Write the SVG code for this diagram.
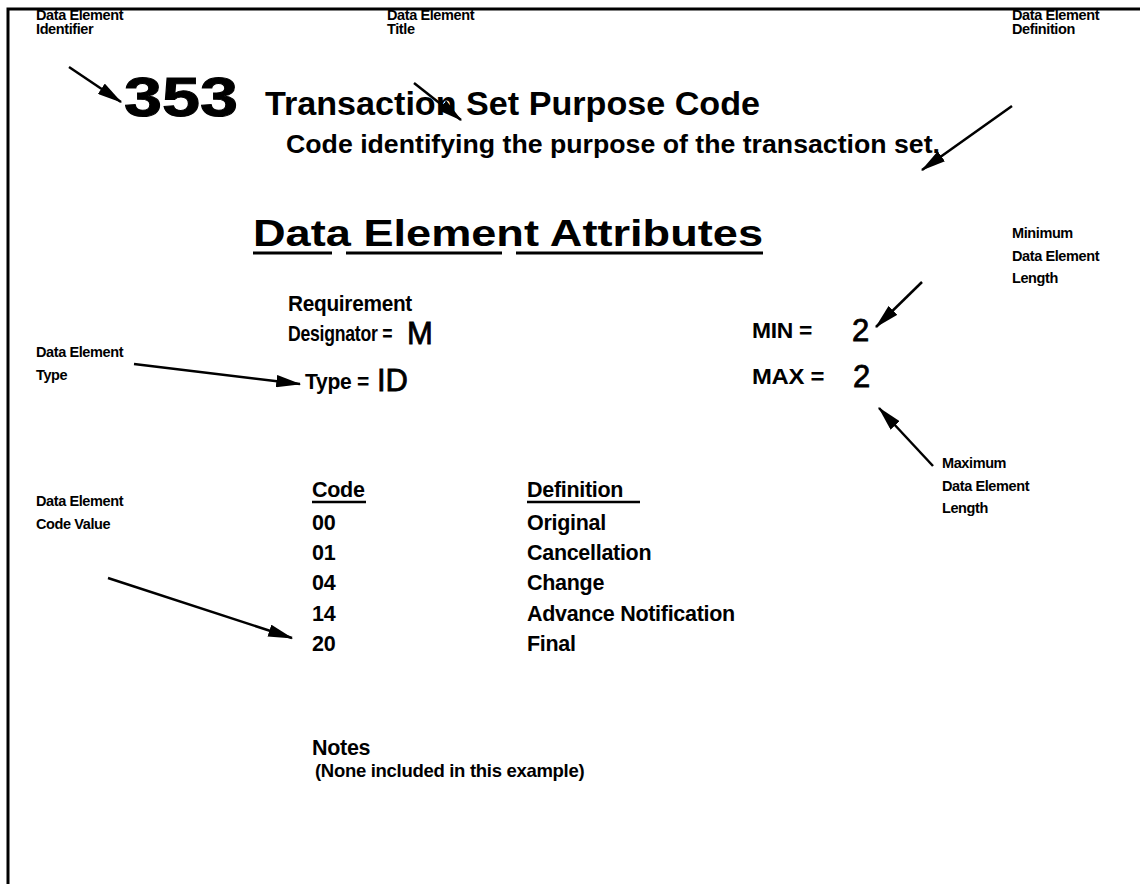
<svg xmlns="http://www.w3.org/2000/svg" width="1140" height="884" viewBox="0 0 1140 884">
<style>
text{font-family:"Liberation Sans",Arial,sans-serif;font-weight:bold;fill:#000}
.lbl{font-size:14.5px;letter-spacing:-0.4px}
.body{font-size:21.5px;letter-spacing:-0.3px}
.val{font-size:31px;font-weight:normal;stroke:#000;stroke-width:0.8}
.conn line{stroke:#000;stroke-width:2.5}
</style>
<defs>
<marker id="ah" viewBox="0 0 20 10" refX="19" refY="5" markerWidth="10" markerHeight="5" markerUnits="strokeWidth" orient="auto">
<path d="M0,0 L20,5 L0,10 Z" fill="#000"/>
</marker>
</defs>
<rect width="1140" height="884" fill="#fff"/>
<g id="frame">
<path d="M8,884 V9 H1140" fill="none" stroke="#000" stroke-width="3"/>
</g>
<g id="header">
<text x="124" y="116" font-size="56" textLength="114" lengthAdjust="spacingAndGlyphs" stroke="#000" stroke-width="1">353</text>
<text x="265" y="115" font-size="34" textLength="495" lengthAdjust="spacingAndGlyphs">Transaction Set Purpose Code</text>
<text x="286" y="153" font-size="25" textLength="654" lengthAdjust="spacingAndGlyphs">Code identifying the purpose of the transaction set.</text>
</g>
<g id="attributes">
<text x="253" y="246" font-size="37" textLength="510" lengthAdjust="spacingAndGlyphs">Data Element Attributes</text>
<path d="M253,253 H332 M346,253 H502 M516,253 H763" stroke="#000" stroke-width="3"/>
<text class="body" x="288" y="311" textLength="124" lengthAdjust="spacingAndGlyphs">Requirement</text>
<text class="body" transform="translate(288,341) scale(0.82,1)" x="0" y="0">Designator =</text>
<text class="val" x="407" y="344">M</text>
<text class="body" x="305" y="389" textLength="64" lengthAdjust="spacingAndGlyphs">Type =</text>
<text class="val" x="377" y="391">ID</text>
<text class="body" x="752" y="338" textLength="60" lengthAdjust="spacingAndGlyphs">MIN =</text>
<text class="val" x="852" y="341">2</text>
<text class="body" x="752" y="384" textLength="72" lengthAdjust="spacingAndGlyphs">MAX =</text>
<text class="val" x="853" y="387">2</text>
</g>
<g id="codes">
<text class="body" x="312" y="497">Code</text>
<text class="body" x="527" y="497">Definition</text>
<path d="M312,502 H366 M527,502 H640" stroke="#000" stroke-width="2.5"/>
<text class="body" x="312" y="530">00</text>
<text class="body" x="527" y="530">Original</text>
<text class="body" x="312" y="560">01</text>
<text class="body" x="527" y="560">Cancellation</text>
<text class="body" x="312" y="590">04</text>
<text class="body" x="527" y="590">Change</text>
<text class="body" x="312" y="621">14</text>
<text class="body" x="527" y="621">Advance Notification</text>
<text class="body" x="312" y="651">20</text>
<text class="body" x="527" y="651">Final</text>
</g>
<g id="notes">
<text class="body" x="312" y="755">Notes</text>
<text x="315" y="777" font-size="18.5" letter-spacing="-0.3">(None included in this example)</text>
</g>
<g id="label-identifier">
<text class="lbl" x="36" y="20">Data Element</text>
<text class="lbl" x="36" y="34">Identifier</text>
</g>
<g id="label-title">
<text class="lbl" x="387" y="20">Data Element</text>
<text class="lbl" x="387" y="34">Title</text>
</g>
<g id="label-definition">
<text class="lbl" x="1012" y="20">Data Element</text>
<text class="lbl" x="1012" y="34">Definition</text>
</g>
<g id="label-min">
<text class="lbl" x="1012" y="238">Minimum</text>
<text class="lbl" x="1012" y="261">Data Element</text>
<text class="lbl" x="1012" y="283">Length</text>
</g>
<g id="label-max">
<text class="lbl" x="942" y="468">Maximum</text>
<text class="lbl" x="942" y="491">Data Element</text>
<text class="lbl" x="942" y="513">Length</text>
</g>
<g id="label-type">
<text class="lbl" x="36" y="357">Data Element</text>
<text class="lbl" x="36" y="380">Type</text>
</g>
<g id="label-codevalue">
<text class="lbl" x="36" y="506">Data Element</text>
<text class="lbl" x="36" y="529">Code Value</text>
</g>
<g class="conn" id="connectors">
<line x1="69" y1="67" x2="121" y2="102" marker-end="url(#ah)"/>
<line x1="414" y1="83" x2="461" y2="120" marker-end="url(#ah)"/>
<line x1="1012" y1="106" x2="922" y2="170" marker-end="url(#ah)"/>
<line x1="922" y1="282" x2="876" y2="327" marker-end="url(#ah)"/>
<line x1="933" y1="466" x2="879" y2="408" marker-end="url(#ah)"/>
<line x1="134" y1="364" x2="300" y2="384" marker-end="url(#ah)"/>
<line x1="108" y1="578" x2="292" y2="638" marker-end="url(#ah)"/>
</g>
</svg>
